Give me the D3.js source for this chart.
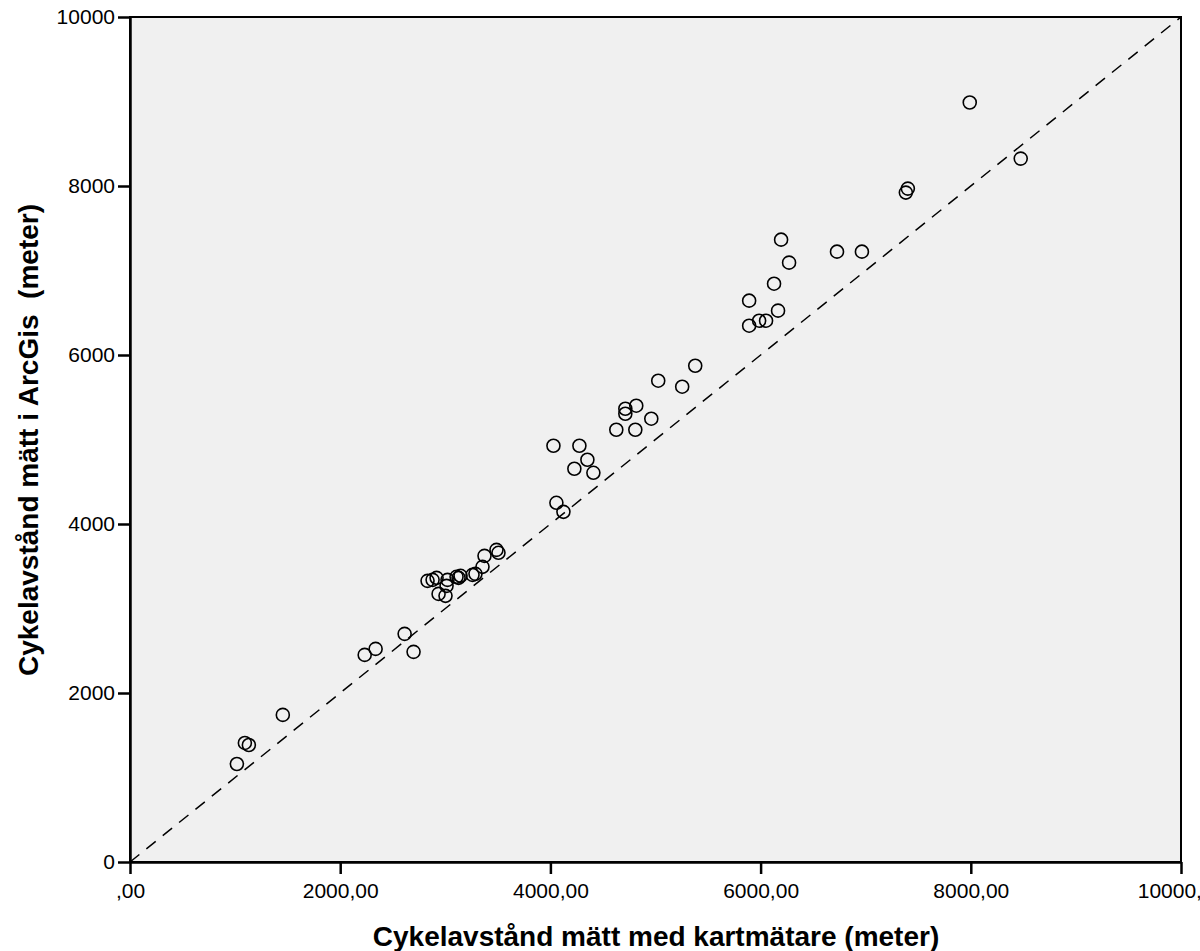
<!DOCTYPE html>
<html>
<head>
<meta charset="utf-8">
<script src="https://cdn.jsdelivr.net/npm/d3@7"></script>
<style>
  body { margin: 0; background: #fff; overflow: hidden; }
  text { font-family: "Liberation Sans", Arial, sans-serif; }
</style>
</head>
<body>
<script>
var kartmatare = [1017, 1093, 1131, 1454, 2233, 2337, 2613, 2698, 2831, 2879,
  2917, 2936, 3002, 3012, 3021, 3107, 3126, 3145, 3259, 3287,
  3354, 3373, 3487, 3506, 4029, 4057, 4124, 4228, 4276, 4352,
  4409, 4627, 4713, 4713, 4817, 4808, 4960, 5026, 5254, 5378,
  5891, 5891, 5986, 6052, 6166, 6128, 6195, 6271, 6727, 6964,
  7382, 7401, 7990, 8475];
var arcgis = [1160, 1409, 1385, 1741, 2451, 2522, 2700, 2487, 3327, 3339,
  3363, 3173, 3150, 3268, 3339, 3375, 3363, 3387, 3398, 3410,
  3493, 3623, 3694, 3659, 4926, 4251, 4144, 4654, 4926, 4760,
  4606, 5115, 5364, 5305, 5400, 5115, 5246, 5696, 5625, 5873,
  6643, 6347, 6406, 6406, 6525, 6844, 7365, 7093, 7223, 7223,
  7922, 7969, 8988, 8324];

var xTicks = [0, 2000, 4000, 6000, 8000, 10000];
var yTicks = [0, 2000, 4000, 6000, 8000, 10000];
var xTickLabels = [",00", "2000,00", "4000,00", "6000,00", "8000,00", "10000,00"];

var W = 1200, H = 951;
// plot area edges (don't call these top/left, window.top is taken)
var plotL = 130, plotR = 1181, plotT = 17, plotB = 862;

var svg = d3.select("body").append("svg")
  .attr("width", W)
  .attr("height", H);

var x = d3.scaleLinear().domain([0, 10000]).range([plotL, plotR]);
var y = d3.scaleLinear().domain([0, 10000]).range([plotB, plotT]);

// plot background with frame
svg.append("rect")
  .attr("x", plotL).attr("y", plotT)
  .attr("width", plotR - plotL).attr("height", plotB - plotT)
  .style("fill", "#f0f0f0")
  .style("stroke", "#000")
  .style("stroke-width", 2);

// diagonal reference line y = x
svg.append("line")
  .attr("x1", x(0)).attr("y1", y(0))
  .attr("x2", x(10000)).attr("y2", y(10000))
  .style("stroke", "#000")
  .style("stroke-width", 1.5)
  .style("stroke-dasharray", "12,9");

// points
svg.append("g").selectAll("circle")
  .data(kartmatare)
  .enter().append("circle")
  .attr("cx", function(d) { return x(d); })
  .attr("cy", function(d, i) { return y(arcgis[i]); })
  .attr("r", 6.5)
  .style("fill", "none")
  .style("stroke", "#000")
  .style("stroke-width", 1.6);

// x axis
var xAxis = d3.axisBottom(x)
  .tickValues(xTicks)
  .tickSize(12)
  .tickSizeOuter(0)
  .tickPadding(9)
  .tickFormat(function(d, i) { return xTickLabels[i]; });

var gx = svg.append("g")
  .attr("transform", "translate(0," + plotB + ")")
  .call(xAxis);
gx.select(".domain").style("stroke-width", 2.5);
gx.selectAll(".tick line").style("stroke-width", 2.5);
gx.selectAll("text")
  .style("font-size", "21px")
  .style("fill", "#000");

// y axis
var yAxis = d3.axisLeft(y)
  .tickValues(yTicks)
  .tickSize(12)
  .tickSizeOuter(0)
  .tickPadding(3)
  .tickFormat(d3.format("d"));

var gy = svg.append("g")
  .attr("transform", "translate(" + plotL + ",0)")
  .call(yAxis);
gy.select(".domain").style("stroke-width", 2.5);
gy.selectAll(".tick line").style("stroke-width", 2.5);
gy.selectAll("text")
  .style("font-size", "21px")
  .style("fill", "#000");

// axis titles
svg.append("text")
  .attr("x", 656)
  .attr("y", 946)
  .attr("text-anchor", "middle")
  .style("font-size", "28px")
  .style("font-weight", "bold")
  .text("Cykelavstånd mätt med kartmätare (meter)");

svg.append("text")
  .attr("transform", "translate(38,440)rotate(-90)")
  .attr("text-anchor", "middle")
  .style("font-size", "28px")
  .style("font-weight", "bold")
  .style("white-space", "pre")
  .text("Cykelavstånd mätt i ArcGis  (meter)");
</script>
</body>
</html>
